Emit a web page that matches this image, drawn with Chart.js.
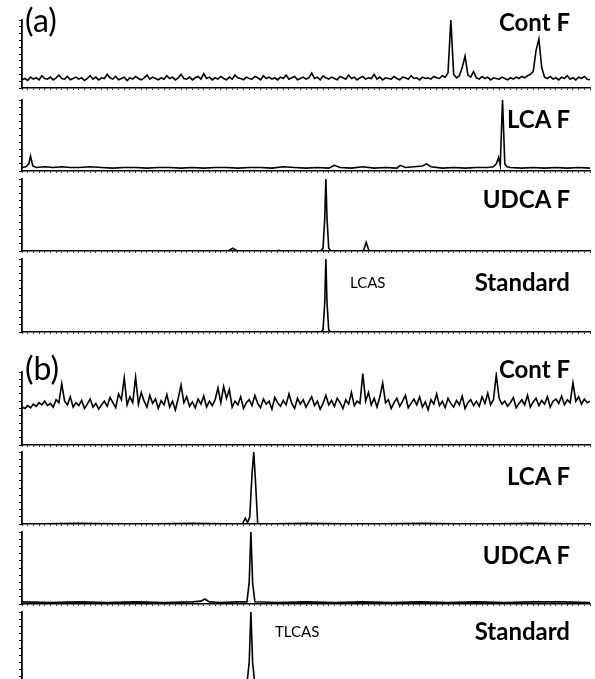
<!DOCTYPE html>
<html>
<head>
<meta charset="utf-8">
<script src="https://cdn.jsdelivr.net/npm/chart.js@4.4.1/dist/chart.umd.min.js"></script>
<style>
  body { margin: 0; background: #fff; }
  #wrap { position: relative; width: 595px; height: 679px; overflow: hidden; }
  canvas { position: absolute; left: 0; }
  .lbl { position: absolute; font-family: Lato, "Open Sans", sans-serif; color: #000; white-space: nowrap; line-height: 1; z-index: 2; }
  .bold { font-weight: bold; font-size: 24px; }
  .tag { font-size: 32px; }
  .cmp { font-size: 15px; }
</style>
</head>
<body>
<div id="wrap"></div>
<script>
// retention time axis runs 0..100 for every panel
const TIME_MIN = 0;
const TIME_MAX = 100;
const NOISE_STEP = 0.5; // sampling step of the two noisy control traces

// (a) control faeces, noisy trace (one value every 0.5)
const aContValues = [
  12,14,11,16,13,15,12,18,14,13, 16,12,15,19,14,13,17,12,14,16,
  13,15,11,14,18,13,16,12,15,14, 20,15,13,17,12,14,16,11,15,13,
  17,14,12,15,19,13,16,14,12,15, 13,18,14,16,12,15,20,14,13,16,
  12,15,17,13,21,14,16,12,15,13, 17,14,12,16,13,19,15,14,12,16,
  14,13,17,15,12,18,14,16,13,15, 12,16,14,19,13,15,17,12,14,16,
  13,15,22,14,16,12,18,15,13,16, 14,12,17,15,13,19,14,16,12,15,
  17,13,15,14,20,13,16,12,15,14, 13,17,14,12,16,15,13,18,14,15,
  12,16,14,15,13,17,15,14,18,16, 22,100,20,15,18,30,47,19,16,24,
  15,13,17,14,16,12,15,14,13,16, 14,12,15,13,16,14,17,15,18,20,
  24,55,72,30,16,14,17,13,15,12, 16,14,18,13,15,12,16,14,17,13,12
];

// (a) LCA fed
const aLcaTimes = [0,0.7,1.2,1.5,1.9,2.5,4,5.5,7,8.5,10,12,14,16,18,20,22,24,26,28,30,32,34,36,38,40,42,44,46,48,50,52,54,55,56,58,60,62,64,66,66.6,67.5,69,70.5,71.2,72,74,76,78,80,82,83,83.5,83.9,84.2,84.6,85,85.4,86,88,90,92,94,96,98,100];
const aLcaValues = [5,6,10,21,7,5,6,5,6,5,5,6,5,4,5,5,4,5,5,4,5,4,5,5,4,5,5,4,6,5,4,5,4,8,5,4,6,4,5,4,8,5,6,7,10,6,4,5,4,5,5,6,10,19,8,100,10,6,5,4,5,4,5,4,5,4];

// (a) UDCA fed
const aUdcaTimes = [0,36.3,37.1,37.9,44.8,45.2,45.6,52.6,53.0,53.3,53.5,53.7,54.0,54.4,60.1,60.6,61.1,100];
const aUdcaValues = [0,0,4,0,0,1,0,0,4,45,100,45,4,0,0,12,0,0];

// (a) LCAS standard
const aStdTimes = [0,52.6,53.0,53.3,53.5,53.7,54.0,54.4,100];
const aStdValues = [0,0,3,40,100,40,3,0,0];

// (b) control faeces, noisy trace (one value every 0.5)
const bContValues = [
  52,50,54,51,56,53,58,55,60,54, 57,52,62,58,84,60,55,66,52,58,
  54,61,50,56,63,52,57,49,55,60, 53,65,58,51,70,62,92,55,66,58,
  93,56,72,60,52,68,57,63,50,61, 55,69,52,60,48,64,82,58,66,53,
  59,51,63,56,67,52,60,54,62,78, 58,80,64,76,52,60,55,66,50,58,
  62,54,68,57,51,63,56,60,49,65, 58,53,61,55,70,57,50,64,56,62,
  52,59,66,54,60,49,57,68,55,61, 53,64,58,50,62,56,72,54,60,57,
  98,60,72,55,64,52,66,85,58,62, 50,58,64,53,60,68,51,57,63,55,
  66,52,59,48,62,56,70,54,60,51, 64,57,52,61,55,67,50,58,62,54,
  60,53,66,57,71,55,62,96,64,56, 60,53,58,65,51,57,62,55,68,52,
  59,64,54,61,56,66,52,60,63,57, 67,55,62,58,85,60,66,56,63,58,60
];

// (b) LCA fed
const bLcaTimes = [0,10,20,30,38.8,39.3,39.7,40.1,40.5,40.8,41.1,41.5,50,60,70,80,90,100];
const bLcaValues = [0,1,0,1,0,8,2,10,70,100,60,0,1,0,1,0,1,0];

// (b) UDCA fed
const bUdcaTimes = [0,5,10,15,20,25,30,31.5,32.2,33,35,38,39.6,40.0,40.3,40.6,41.0,45,50,55,60,65,70,75,80,85,90,95,100];
const bUdcaValues = [3,2,3,2,3,2,3,4,7,3,2,3,3,30,100,30,3,2,3,2,3,2,3,2,3,2,3,3,2];

// (b) TLCAS standard
const bStdTimes = [0,39.3,39.7,40.0,40.3,40.6,41.0,100];
const bStdValues = [0,0,8,30,100,30,0,0];

function evenTimes(vals) {
  return vals.map((v, i) => ({ x: TIME_MIN + i * NOISE_STEP, y: v }));
}
function pairTimes(ts, vs) {
  return ts.map((t, i) => ({ x: t, y: vs[i] }));
}

// panel boxes in page pixels (plot area top / bottom), label position
const panels = [
  { top: 20,  bottom: 88,  labelTop: 10,  pts: evenTimes(aContValues),           name: 'Cont F' },
  { top: 100, bottom: 171, labelTop: 107, pts: pairTimes(aLcaTimes, aLcaValues),   name: 'LCA F' },
  { top: 179, bottom: 251, labelTop: 187, pts: pairTimes(aUdcaTimes, aUdcaValues), name: 'UDCA F' },
  { top: 259, bottom: 332, labelTop: 270, pts: pairTimes(aStdTimes, aStdValues),   name: 'Standard' },
  { top: 372, bottom: 445, labelTop: 357, pts: evenTimes(bContValues),           name: 'Cont F' },
  { top: 452, bottom: 524, labelTop: 464, pts: pairTimes(bLcaTimes, bLcaValues),   name: 'LCA F' },
  { top: 532, bottom: 604, labelTop: 543, pts: pairTimes(bUdcaTimes, bUdcaValues), name: 'UDCA F' },
  { top: 612, bottom: 684, labelTop: 619, pts: pairTimes(bStdTimes, bStdValues),   name: 'Standard' },
];

const wrap = document.getElementById('wrap');
const PAD = 4;

panels.forEach((p) => {
  const cv = document.createElement('canvas');
  const h = p.bottom - p.top + PAD * 2;
  cv.width = 595;
  cv.height = h;
  cv.style.top = (p.top - PAD) + 'px';
  wrap.appendChild(cv);

  new Chart(cv.getContext('2d'), {
    type: 'line',
    data: {
      datasets: [{
        data: p.pts,
        borderColor: '#000',
        borderWidth: 1.6,
        pointRadius: 0,
        tension: 0,
        fill: false,
      }],
    },
    options: {
      responsive: false,
      animation: false,
      events: [],
      layout: { padding: { top: PAD, left: 18, right: 5, bottom: 0 } },
      plugins: { legend: { display: false }, tooltip: { enabled: false } },
      scales: {
        x: {
          type: 'linear',
          min: TIME_MIN,
          max: TIME_MAX,
          ticks: { display: false, stepSize: 1 },
          grid: { drawOnChartArea: false, drawTicks: true, tickLength: 2, color: '#000', lineWidth: 0.8 },
          border: { display: true, color: '#000', width: 1.5 },
          afterFit: (s) => { s.height = PAD; },
        },
        y: {
          min: 0,
          max: 100,
          ticks: { display: false, stepSize: 10 },
          grid: { drawOnChartArea: false, drawTicks: true, tickLength: 3, color: '#000', lineWidth: 1 },
          border: { display: true, color: '#000', width: 1.8 },
          afterFit: (s) => { s.width = 4; },
        },
      },
    },
  });

  const t = document.createElement('div');
  t.className = 'lbl bold';
  t.textContent = p.name;
  t.style.right = '25px';
  t.style.top = p.labelTop + 'px';
  wrap.appendChild(t);
});

// panel tags and compound names
const extra = [
  { text: '(a)', cls: 'tag', left: 25, top: 4 },
  { text: '(b)', cls: 'tag', left: 25, top: 352 },
  { text: 'LCAS', cls: 'cmp', left: 350, top: 275 },
  { text: 'TLCAS', cls: 'cmp', left: 275, top: 624 },
];
extra.forEach((e) => {
  const d = document.createElement('div');
  d.className = 'lbl ' + e.cls;
  d.textContent = e.text;
  d.style.left = e.left + 'px';
  d.style.top = e.top + 'px';
  wrap.appendChild(d);
});
</script>
</body>
</html>
